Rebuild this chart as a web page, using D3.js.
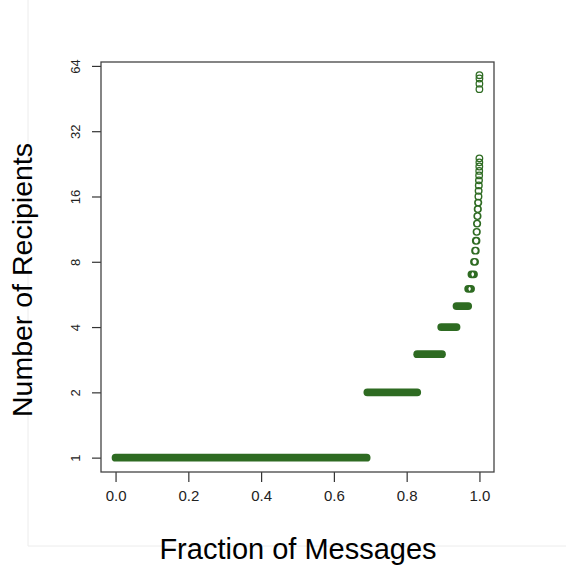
<!DOCTYPE html>
<html>
<head>
<meta charset="utf-8">
<script src="https://cdn.jsdelivr.net/npm/d3@7"></script>
<style>
    body { margin: 0; background: #fff; }
    svg { display: block; font-family: "Liberation Sans", Arial, sans-serif; }
    .axis text { fill: #222; }
    .axis line { stroke: #333; stroke-width: 1.2; }
</style>
</head>
<body>
<div class="chart"></div>
<script>

// number of recipients, and the fraction of messages over which each level runs
const recipients = [1, 2, 3, 4, 5, 6, 7, 8, 9, 10, 11, 12, 13, 14, 15, 16,
    17, 18, 19, 20, 21, 22, 23, 24, 50, 53, 56, 58];
const fracStart = [0.000, 0.692, 0.829, 0.895, 0.937, 0.969, 0.978, 0.985, 0.988, 0.990,
    0.992, 0.993, 0.994, 0.995, 0.996, 0.997, 0.9975, 0.998, 0.9985, 0.999,
    0.9993, 0.9995, 0.9997, 0.9998, 0.9999, 0.9999, 1.000, 1.000];
const fracEnd = [0.690, 0.829, 0.897, 0.937, 0.969, 0.977, 0.985, 0.988, 0.990, 0.992,
    0.993, 0.994, 0.995, 0.996, 0.997, 0.9975, 0.998, 0.9985, 0.999, 0.9993,
    0.9995, 0.9997, 0.9998, 0.9999, 0.9999, 0.9999, 1.000, 1.000];

const xTicks = [0, 0.2, 0.4, 0.6, 0.8, 1.0];
const yTicks = [1, 2, 4, 8, 16, 32, 64];

const dim = { width: 566, height: 566 };
const box = { left: 101, right: 494, top: 62, bottom: 472 };
const dot = { outer: 3.9, inner: 2.65 };
const green = "#2e6b22";

const svg = d3.select(".chart").append("svg")
    .attr("width", dim.width)
    .attr("height", dim.height);

// faint frame lines from the original figure
svg.append("line")
    .attr("x1", 28).attr("x2", 28).attr("y1", 0).attr("y2", 546)
    .style("stroke", "#ececec");
svg.append("line")
    .attr("x1", 28).attr("x2", dim.width).attr("y1", 546).attr("y2", 546)
    .style("stroke", "#ececec");

const x = d3.scaleLinear()
    .domain([-0.04, 1.04])
    .range([box.left, box.right]);

const y = d3.scaleLog()
    .base(2)
    .domain([Math.pow(2, -0.22), Math.pow(2, 6.06)])
    .range([box.bottom, box.top]);

// x axis
svg.append("g")
    .attr("class", "axis x")
    .attr("transform", `translate(0, ${ box.bottom })`)
    .call(d3.axisBottom(x)
        .tickValues(xTicks)
        .tickFormat(d3.format(".1f"))
        .tickSize(10)
        .tickPadding(8))
    .call(g => g.select(".domain").remove())
    .call(g => g.selectAll("text").style("font-size", "15px"));

// y axis, labels parallel to the axis
svg.append("g")
    .attr("class", "axis y")
    .attr("transform", `translate(${ box.left }, 0)`)
    .call(d3.axisLeft(y)
        .tickValues(yTicks)
        .tickFormat(d3.format("d"))
        .tickSize(9))
    .call(g => g.select(".domain").remove())
    .call(g => g.selectAll("text")
        .attr("transform", "rotate(-90)")
        .attr("text-anchor", "middle")
        .attr("x", 0)
        .attr("y", -21)
        .attr("dy", null)
        .style("font-size", "13px"));

// union of overlapping open circles along a run: capsule minus inner lens
function runPath(i) {
    const a = x(fracStart[i]), b = x(fracEnd[i]), c = y(recipients[i]);
    const R = dot.outer, r = dot.inner;
    let p = `M${a},${c - R}L${b},${c - R}A${R},${R} 0 0 1 ${b},${c + R}` +
        `L${a},${c + R}A${R},${R} 0 0 1 ${a},${c - R}Z`;
    const d = b - a;
    if (d < 2 * r) {
        const m = (a + b) / 2, h = Math.sqrt(r * r - (d / 2) * (d / 2));
        p += `M${m},${c - h}A${r},${r} 0 0 0 ${m},${c + h}` +
            `A${r},${r} 0 0 0 ${m},${c - h}Z`;
    }
    return p;
}

svg.append("g")
    .selectAll("path")
    .data(d3.range(recipients.length))
    .join("path")
    .attr("d", runPath)
    .attr("fill-rule", "evenodd")
    .style("fill", green);

// plot box
svg.append("rect")
    .attr("x", box.left).attr("y", box.top)
    .attr("width", box.right - box.left)
    .attr("height", box.bottom - box.top)
    .style("fill", "none")
    .style("stroke", "#444")
    .style("stroke-width", 1.3);

// titles
svg.append("text")
    .attr("x", 298)
    .attr("y", 559)
    .attr("text-anchor", "middle")
    .style("font-size", "29px")
    .text("Fraction of Messages");

svg.append("text")
    .attr("transform", "translate(32, 280) rotate(-90)")
    .attr("text-anchor", "middle")
    .style("font-size", "28.5px")
    .text("Number of Recipients");

</script>
</body>
</html>
